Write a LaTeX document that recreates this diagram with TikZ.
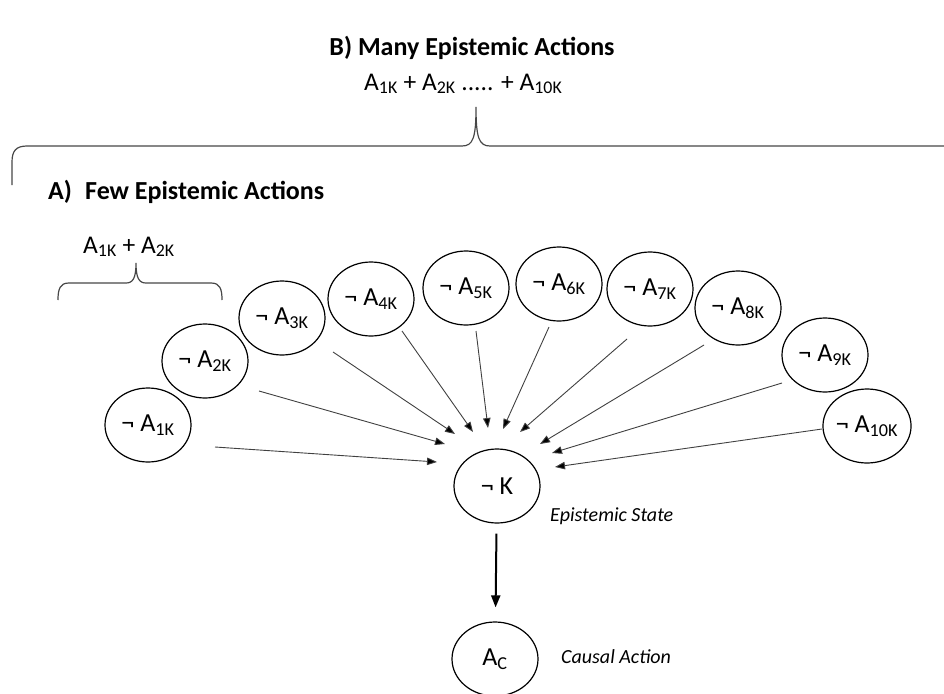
\documentclass[tikz,border=0pt]{standalone}
\usepackage{fontspec}
\setmainfont{Carlito}
\usetikzlibrary{arrows.meta,shapes.geometric}

\newcommand{\sbk}[1]{\textsubscript{#1}}

\tikzset{
  state/.style={ellipse, draw=black, line width=1.2pt, minimum width=86pt,
    minimum height=74pt, inner sep=0pt, font=\fontsize{26}{30}\selectfont},
  feed/.style={draw=black!75, line width=0.9pt,
    -{Triangle[length=10pt,width=7.5pt,fill=black]}},
  cause/.style={draw=black, line width=2pt,
    -{Triangle[length=12pt,width=9pt]}},
  brace/.style={draw=black!72, line width=1.2pt},
  heading/.style={font=\fontsize{26}{30}\selectfont\bfseries, anchor=base west, inner sep=0pt},
  formula/.style={font=\fontsize{25.5}{30}\selectfont, anchor=base west, inner sep=0pt},
  caption/.style={font=\fontsize{20}{24}\selectfont\itshape, anchor=base west, inner sep=0pt},
}

\begin{document}
\begin{tikzpicture}[x=1pt,y=-1pt]
\useasboundingbox (0,0) rectangle (944,693);

% headings and sums
\node[heading, anchor=base] (titleB) at (472,56) {B) Many Epistemic Actions};
\node[formula] (sumB) at (364,90) {A\sbk{1K} + A\sbk{2K} ..... + A\sbk{10K}};
\node[heading] (labA) at (48,199) {A)};
\node[heading] (titleA) at (85,199) {Few Epistemic Actions};
\node[formula] (sumA) at (83,253) {A\sbk{1K} + A\sbk{2K}};

% braces
\draw[brace] (12,185) -- (12,162) .. controls (12,151) and (16,146) .. (27,146)
  -- (462,146) .. controls (473,146) and (476,138) .. (476,107)
  .. controls (476,138) and (479,146) .. (490,146) -- (944,146);
\draw[brace] (58,300) .. controls (58,289) and (60,283) .. (69,283)
  -- (126,283) .. controls (133,283) and (136,278) .. (136,263)
  .. controls (136,278) and (139,283) .. (146,283)
  -- (211,283) .. controls (220,283) and (222,289) .. (222,300);

% negated epistemic actions
\node[state] (a1) at (148,425) {¬ A\sbk{1K}};
\node[state] (a2) at (205,361) {¬ A\sbk{2K}};
\node[state] (a3) at (282,318) {¬ A\sbk{3K}};
\node[state] (a4) at (371,299) {¬ A\sbk{4K}};
\node[state] (a5) at (466,288) {¬ A\sbk{5K}};
\node[state] (a6) at (559,284) {¬ A\sbk{6K}};
\node[state] (a7) at (650,289) {¬ A\sbk{7K}};
\node[state] (a8) at (738,308) {¬ A\sbk{8K}};
\node[state] (a9) at (825,355) {¬ A\sbk{9K}};
\node[state] (a10) at (867,426) {¬ A\sbk{10K}};

% epistemic state and causal action
\node[state] (k) at (497,486) {¬ K};
\node[state] (ac) at (495,659) {A\sbk{C}};
\node[caption] (capK) at (550,521) {Epistemic State};
\node[caption] (capAc) at (561,663) {Causal Action};

% feed-line end points
\coordinate (s1) at (215,447);  \coordinate (t1) at (437,462);
\coordinate (s2) at (259,391);  \coordinate (t2) at (445,444);
\coordinate (s3) at (333,352);  \coordinate (t3) at (455,434);
\coordinate (s4) at (402,331);  \coordinate (t4) at (473,432);
\coordinate (s5) at (476,331);  \coordinate (t5) at (488,428);
\coordinate (s6) at (549,327);  \coordinate (t6) at (503,429);
\coordinate (s7) at (627,339);  \coordinate (t7) at (520,432);
\coordinate (s8) at (704,345);  \coordinate (t8) at (540,444);
\coordinate (s9) at (782,383);  \coordinate (t9) at (552,453);
\coordinate (s10) at (822,429); \coordinate (t10) at (555,467);

\foreach \i in {1,...,10} {
  \draw[feed] (s\i) -- (t\i);
}

\draw[cause, shorten <=10pt, shorten >=14pt] (k) -- (ac);
\end{tikzpicture}
\end{document}
